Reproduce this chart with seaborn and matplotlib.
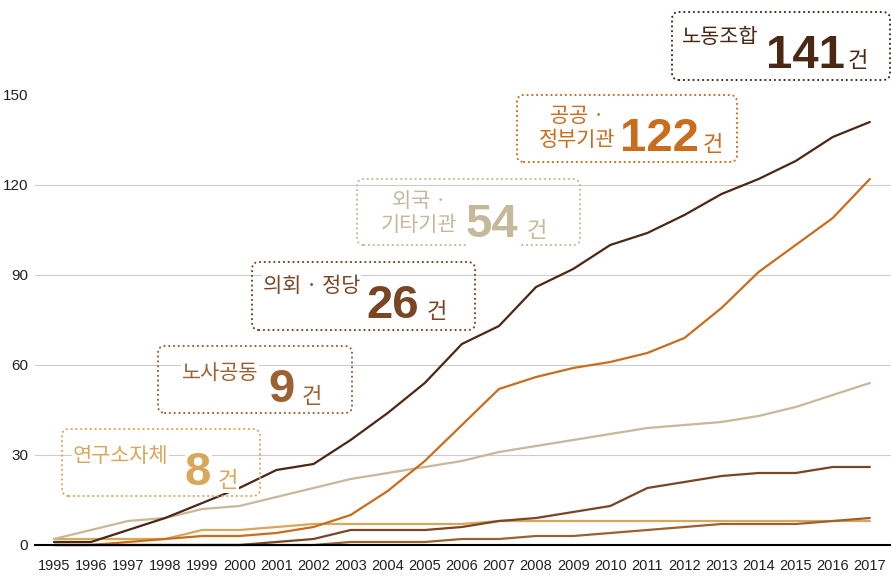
import matplotlib
matplotlib.use('Agg')
import matplotlib.pyplot as plt
import matplotlib.transforms as mtransforms
from matplotlib.patches import FancyBboxPatch
import seaborn as sns
import pandas as pd

years = list(range(1995, 2018))
union = [1, 1, 5, 9, 14, 19, 25, 27, 35, 44, 54, 67, 73, 86, 92, 100, 104, 110, 117, 122, 128, 136, 141]
public = [0, 0, 1, 2, 3, 3, 4, 6, 10, 18, 28, 40, 52, 56, 59, 61, 64, 69, 79, 91, 100, 109, 122]
foreign = [2, 5, 8, 9, 12, 13, 16, 19, 22, 24, 26, 28, 31, 33, 35, 37, 39, 40, 41, 43, 46, 50, 54]
parliament = [0, 0, 0, 0, 0, 0, 1, 2, 5, 5, 5, 6, 8, 9, 11, 13, 19, 21, 23, 24, 24, 26, 26]
labor_mgmt = [0, 0, 0, 0, 0, 0, 0, 0, 1, 1, 1, 2, 2, 3, 3, 4, 5, 6, 7, 7, 7, 8, 9]
local = [2, 2, 2, 2, 5, 5, 6, 7, 7, 7, 7, 7, 8, 8, 8, 8, 8, 8, 8, 8, 8, 8, 8]

names = ['연구소자체', '노사공동', '의회 · 정당', '외국 · 기타기관', '공공 · 정부기관', '노동조합']
colors = ['#d8a75a', '#9c6130', '#7a4522', '#c6b89b', '#c96c1c', '#4a2814']
yticks = [0, 30, 60, 90, 120, 150]
grid_vals = [30, 60, 90, 120]

series = [local, labor_mgmt, parliament, foreign, public, union]
df = pd.concat([pd.DataFrame({'year': years, 'count': s, 'group': n})
                for n, s in zip(names, series)])

W, H = 891, 579
sns.set_style('white')
plt.rcParams['font.family'] = ['Noto Sans CJK KR', 'DejaVu Sans']
num_font = ['Liberation Sans', 'DejaVu Sans']

fig = plt.figure(figsize=(W / 100, H / 100), dpi=100)
ax = fig.add_axes([35 / W, (H - 545) / H, (W - 35) / W, 540 / H])

for g in grid_vals:
    ax.axhline(g, color='#cccccc', lw=0.8, zorder=0)

sns.lineplot(data=df, x='year', y='count', hue='group', hue_order=names,
             palette=colors, lw=1.6, legend=False, ax=ax, clip_on=False)

ax.set_xlim(1994.49, 2017.57)
ax.set_ylim(0, 180)
ax.set_xticks(years)
ax.set_yticks(yticks)
ax.set_xlabel('')
ax.set_ylabel('')
for s in ['top', 'right', 'left']:
    ax.spines[s].set_visible(False)
ax.spines['bottom'].set_color('black')
ax.spines['bottom'].set_linewidth(1.5)
ax.tick_params(axis='both', length=0, colors='#222222')
ax.tick_params(axis='x', pad=10)
ax.tick_params(axis='y', pad=5)
for lab in ax.get_xticklabels():
    lab.set_family(num_font)
    lab.set_fontsize(10.5)
for lab in ax.get_yticklabels():
    lab.set_family(num_font)
    lab.set_fontsize(11)

# annotation boxes in pixel coordinates (y measured from top)
px = mtransforms.Affine2D().scale(1 / W, 1 / H) + fig.transFigure
white = dict(facecolor='white', edgecolor='none', pad=0.5)


def box(x0, y0, x1, y1, color):
    p = FancyBboxPatch((x0, H - y1), x1 - x0, y1 - y0,
                       boxstyle='round,pad=0,rounding_size=7',
                       transform=px, fill=False, edgecolor=color,
                       lw=1.5, ls=(0, (0.1, 2.2)))
    p.set_capstyle('round')
    fig.add_artist(p)


def txt(x, y, s, color, size, **kw):
    fig.text(x / W, (H - y) / H, s, color=color, fontsize=size, bbox=white, **kw)


annots = [
    # box, label pos, label, number pos, number, unit pos
    ((672, 12, 890, 80), (682, 37, 'left'), '노동조합', (766, 68), '141', (848, 67)),
    ((517, 95, 737, 162), (577, 128, 'center'), '공공 ·\n정부기관', (620, 151), '122', (703, 151)),
    ((357, 179, 580, 245), (419, 213, 'center'), '외국 ·\n기타기관', (466, 237), '54', (527, 237)),
    ((252, 262, 475, 330), (263, 286, 'left'), '의회 · 정당', (366, 318), '26', (427, 318)),
    ((158, 346, 352, 413), (182, 373, 'left'), '노사공동', (268, 402), '9', (302, 403)),
    ((62, 429, 260, 496), (73, 456, 'left'), '연구소자체', (185, 485), '8', (218, 487)),
]
for (b, lp, label, npos, num, upos), c in zip(annots, colors[::-1]):
    box(*b, c)
    txt(lp[0], lp[1], label, c, 15, ha=lp[2], va='center',
        multialignment='center', linespacing=1.15)
    txt(npos[0], npos[1], num, c, 34, family=num_font, weight='bold',
        ha='left', va='baseline')
    txt(upos[0], upos[1], '건', c, 16, ha='left', va='baseline')

fig.savefig('out.png', dpi=100)
